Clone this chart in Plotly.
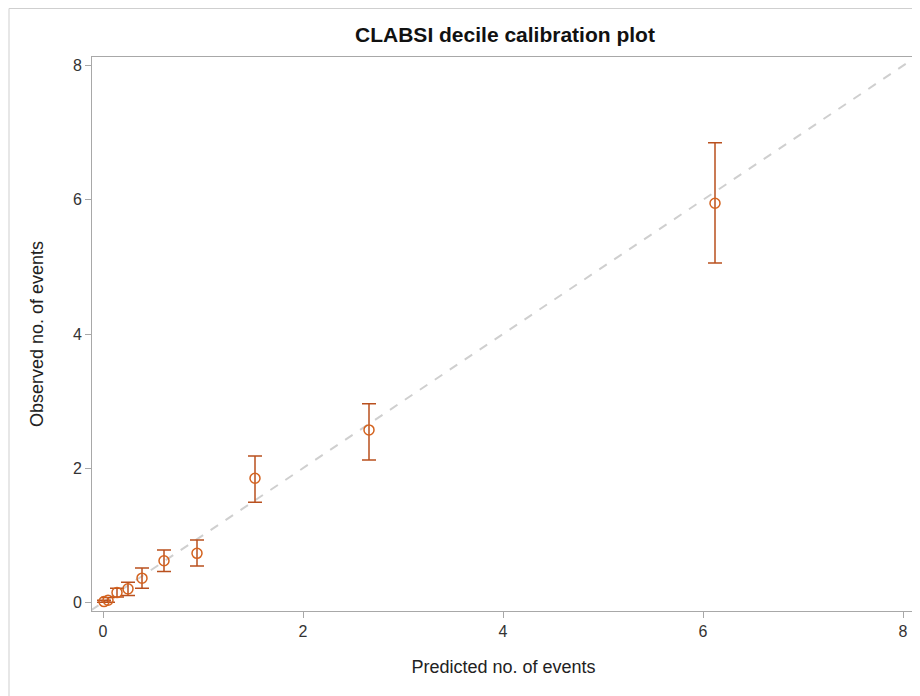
import plotly.graph_objects as go

predicted = [0.01, 0.05, 0.14, 0.25, 0.39, 0.61, 0.94, 1.52, 2.66, 6.12]
observed = [0.01, 0.03, 0.145, 0.20, 0.36, 0.62, 0.73, 1.85, 2.57, 5.95]
upper = [0.03, 0.07, 0.21, 0.30, 0.51, 0.78, 0.93, 2.18, 2.96, 6.85]
lower = [0.00, 0.00, 0.08, 0.10, 0.21, 0.46, 0.54, 1.49, 2.12, 5.06]
diag = [-0.12, 8.12]
ticks = [0, 2, 4, 6, 8]

err_plus = [u - o for u, o in zip(upper, observed)]
err_minus = [o - l for o, l in zip(observed, lower)]

FONT = "Liberation Sans, Arial, sans-serif"

W, H = 912, 688
L, T, R, B = 84, 49, 5, 85
PW, PH = W - L - R, H - T - B

fig = go.Figure()
fig.add_trace(go.Scatter(
    x=diag, y=diag, mode="lines",
    line=dict(color="#cfcfcf", width=2, dash="dash"),
    hoverinfo="skip", showlegend=False))
fig.add_trace(go.Scatter(
    x=predicted, y=observed, mode="markers",
    marker=dict(symbol="circle-open", size=10, color="#d4631f", line=dict(width=1.5, color="#d4631f")),
    error_y=dict(type="data", symmetric=False, array=err_plus, arrayminus=err_minus,
                 color="#b9501e", thickness=1.5, width=7),
    showlegend=False))

axis_common = dict(
    showgrid=False, zeroline=False, showline=True, linecolor="#a8a8a8", linewidth=1,
    mirror=True, ticks="outside", ticklen=6, tickcolor="#a8a8a8",
    tickfont=dict(family=FONT, size=16, color="#333333"),
    tickvals=ticks, ticktext=[str(t) for t in ticks])

fig.update_layout(
    width=W, height=H,
    margin=dict(l=L, r=R, t=T, b=B),
    paper_bgcolor="white", plot_bgcolor="white",
    title=dict(text="<b>CLABSI decile calibration plot</b>", x=497 / W, xanchor="center",
               y=1 - 27 / H, yanchor="middle",
               font=dict(family=FONT, size=21, color="#111111")),
    xaxis=dict(range=[-0.11, 8.12], title=dict(text="Predicted no. of events", standoff=21,
               font=dict(family=FONT, size=18, color="#222222")),
               **axis_common),
    yaxis=dict(range=[-0.13, 8.13], title=dict(text="Observed no. of events", standoff=24,
               font=dict(family=FONT, size=18, color="#222222")),
               **axis_common),
    shapes=[dict(type="rect", xref="paper", yref="paper",
                 x0=(1 - L) / PW, x1=(W + 10 - L) / PW,
                 y0=-(B + 10) / PH, y1=1 + (T - 0.5) / PH,
                 line=dict(color="#cfcfcf", width=1), layer="below")],
)

fig.write_html("out.html")
